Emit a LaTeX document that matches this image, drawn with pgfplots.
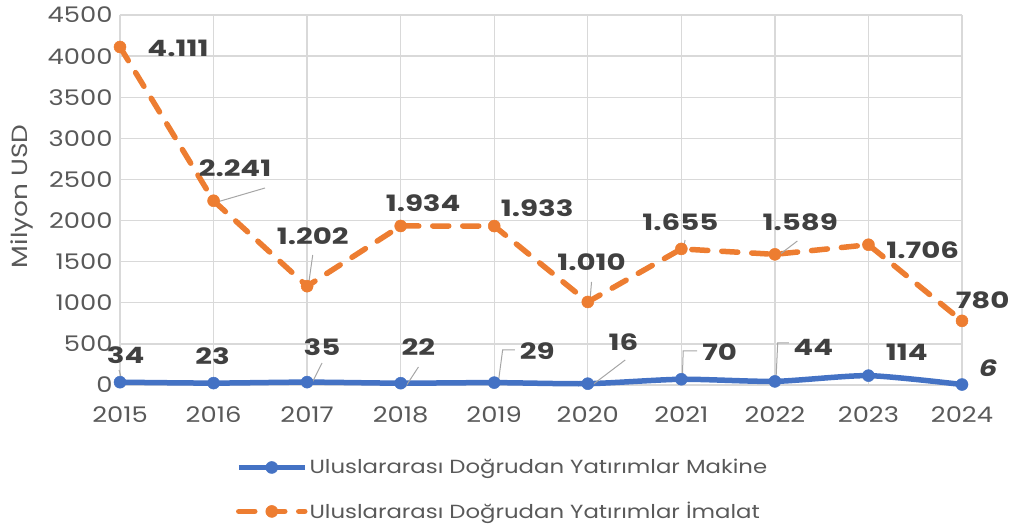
\documentclass[border=0pt]{standalone}
\usepackage{fontspec}
\setmainfont{Poppins}[FakeStretch=1.2]
\newfontfamily\labfont{Poppins}[FakeStretch=1.3]
\usepackage{pgfplots}
\pgfplotsset{compat=1.18}
\definecolor{cblue}{HTML}{4472C4}
\definecolor{corange}{HTML}{ED7D31}
\definecolor{tickgray}{HTML}{595959}
\definecolor{labgray}{HTML}{404040}
\definecolor{gridgray}{HTML}{D9D9D9}
\definecolor{leadgray}{HTML}{A6A6A6}
\begin{document}
\begin{tikzpicture}[
 lab/.style={font=\labfont\fontsize{22.5}{26}\selectfont\bfseries, text=labgray},
 lead/.style={leadgray, line width=1pt}]
\begin{axis}[
 at={(0pt,0pt)}, anchor=south west,
 scale only axis, width=842pt, height=370pt,
 xmin=2015, xmax=2024, ymin=0, ymax=4500,
 xtick={2015,2016,2017,2018,2019,2020,2021,2022,2023,2024},
 ytick={0,500,1000,1500,2000,2500,3000,3500,4000,4500},
 axis line style={draw=none}, major tick length=0pt,
 grid=major, grid style={gridgray, line width=1.3pt},
 /pgf/number format/1000 sep={}, /pgf/number format/assume math mode=true,
 ticklabel style={font=\fontsize{21.5}{24}\selectfont, text=tickgray},
 xticklabel style={yshift=-18pt},
 yticklabel style={xshift=-4pt},
 ylabel={Milyon USD},
 ylabel style={font=\fontsize{22}{24}\selectfont, text=tickgray, at={(axis description cs:-0.116,0.51)}, anchor=center},
 clip=false,
 legend style={at={(axis description cs:0.134,-0.19)}, anchor=north west, draw=none, fill=none,
   font=\fontsize{19}{23}\selectfont, text=tickgray, row sep=23pt},
 legend cell align=left,
 legend image code/.code={\draw[mark repeat=2,mark phase=2,#1] plot coordinates {(0pt,0pt) (33pt,0pt) (66pt,0pt)};},
]
\addplot[cblue, line width=5.5pt, smooth, tension=0.4, mark=*, mark size=6pt, mark options={solid, line width=0.5pt}] coordinates {
 (2015,34) (2016,23) (2017,35) (2018,22) (2019,29) (2020,16) (2021,70) (2022,44) (2023,114) (2024,6)};
\addlegendentry{Uluslararası Doğrudan Yatırımlar Makine}
\addplot[corange, line width=5.5pt, dash pattern=on 16pt off 14pt, line cap=round, mark=*, mark size=6pt, mark options={solid, line width=0.5pt}] coordinates {
 (2015,4111) (2016,2241) (2017,1202) (2018,1934) (2019,1933) (2020,1010) (2021,1655) (2022,1589) (2023,1706) (2024,780)};
\addlegendentry{Uluslararası Doğrudan Yatırımlar İmalat}
% leader lines
\draw[lead] (axis cs:2016.0,2213) -- (axis cs:2016.55,2396);
\draw[lead] (axis cs:2017.01,1180) -- (axis cs:2017.06,1581);
\draw[lead] (axis cs:2020.02,973) -- (axis cs:2020.04,1253);
\draw[lead] (axis cs:2021.02,1654) -- (axis cs:2021.04,1763);
\draw[lead] (axis cs:2022.03,1569) -- (axis cs:2022.24,1751);
\draw[lead] (axis cs:2015.03,24) -- (axis cs:2014.99,182);
\draw[lead] (axis cs:2017.03,-24) -- (axis cs:2017.16,268);
\draw[lead] (axis cs:2018.05,-24) -- (axis cs:2018.19,219);
\draw[lead] (axis cs:2019.04,0) -- (axis cs:2019.09,426) -- (axis cs:2019.22,426);
\draw[lead] (axis cs:2020.02,-24) -- (axis cs:2020.40,304);
\draw[lead] (axis cs:2021.01,61) -- (axis cs:2021.02,414) -- (axis cs:2021.17,414);
\draw[lead] (axis cs:2022.01,24) -- (axis cs:2022.03,511) -- (axis cs:2022.15,511);
% data labels
\node[lab] at (axis cs:2015.62,4099) {4.111};
\node[lab] at (axis cs:2016.23,2639) {2.241};
\node[lab] at (axis cs:2017.06,1812) {1.202};
\node[lab] at (axis cs:2018.24,2213) {1.934};
\node[lab] at (axis cs:2019.46,2153) {1.933};
\node[lab] at (axis cs:2020.04,1496) {1.010};
\node[lab] at (axis cs:2020.99,1982) {1.655};
\node[lab] at (axis cs:2022.27,1982) {1.589};
\node[lab] at (axis cs:2023.58,1642) {1.706};
\node[lab] at (axis cs:2024.22,1034) {780};
\node[lab] at (axis cs:2015.06,365) {34};
\node[lab] at (axis cs:2015.99,353) {23};
\node[lab] at (axis cs:2017.16,462) {35};
\node[lab] at (axis cs:2018.19,462) {22};
\node[lab] at (axis cs:2019.46,414) {29};
\node[lab] at (axis cs:2020.38,523) {16};
\node[lab] at (axis cs:2021.41,401) {70};
\node[lab] at (axis cs:2022.41,462) {44};
\node[lab] at (axis cs:2023.41,401) {114};
\node[lab] at (axis cs:2024.28,207) {\itshape 6};
\end{axis}
\pgfresetboundingbox
\path (-120pt,-145pt) rectangle (891pt,385pt);
\end{tikzpicture}
\end{document}
